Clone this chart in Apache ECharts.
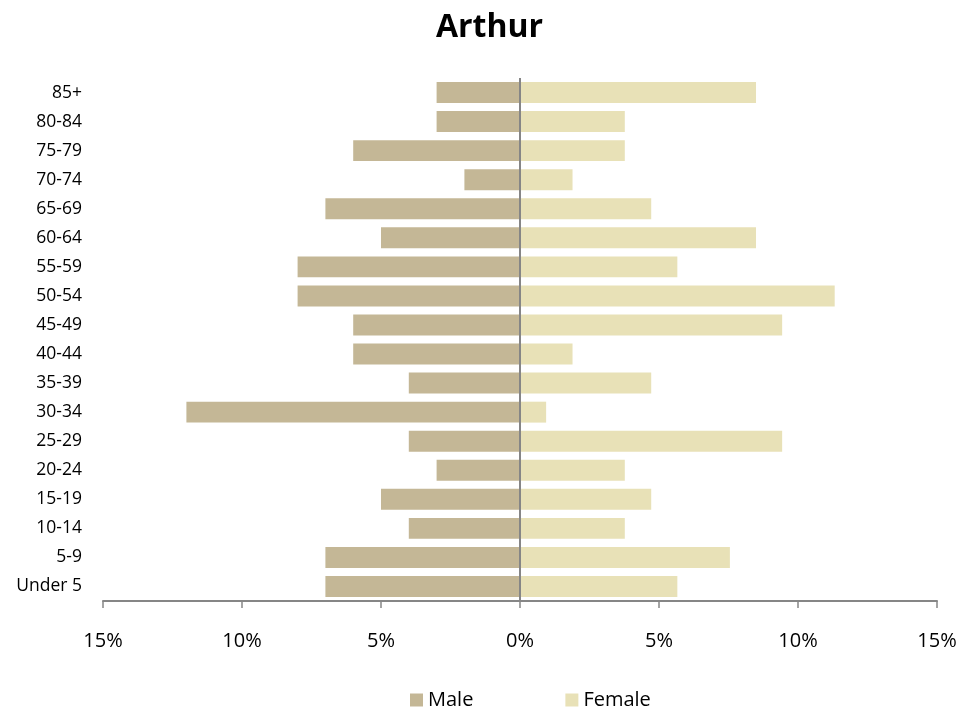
<!DOCTYPE html>
<html>
<head>
<meta charset="utf-8">
<script src="https://cdn.jsdelivr.net/npm/echarts@6/dist/echarts.min.js"></script>
<style>html,body{margin:0;padding:0;background:#fff}#c{width:979px;height:713px}</style>
</head>
<body>
<div id="c"></div>
<script>
const categories = ["Under 5","5-9","10-14","15-19","20-24","25-29","30-34","35-39","40-44","45-49","50-54","55-59","60-64","65-69","70-74","75-79","80-84","85+"];
const maleValues = [7,7,4,5,3,4,12,4,6,6,8,8,5,7,2,6,3,3];
const femaleValues = [5.66,7.55,3.77,4.72,3.77,9.43,0.94,4.72,1.89,9.43,11.32,5.66,8.49,4.72,1.89,3.77,3.77,8.49];
const xTicks = [-15,-10,-5,0,5,10,15];

const font = "'Open Sans', 'Liberation Sans', sans-serif";
const chart = echarts.init(document.getElementById('c'), null, {renderer:'canvas'});
chart.setOption({
  animation:false,
  backgroundColor:'#fff',
  title:{text:'Arthur',left:'center',top:7,textStyle:{fontFamily:font,fontSize:32,fontWeight:'bold',color:'#000'}},
  legend:{left:405,top:685,itemWidth:13,itemHeight:13,itemGap:92,icon:'rect',
    textStyle:{fontFamily:font,fontSize:20,color:'#000'},data:['Male','Female']},
  grid:{left:103,right:42,top:78,bottom:112,containLabel:false},
  xAxis:{type:'value',min:xTicks[0],max:xTicks[xTicks.length-1],interval:5,
    axisLine:{show:true,lineStyle:{color:'#868686',width:2}},
    axisTick:{show:true,length:7,lineStyle:{color:'#868686',width:1.5}},
    splitLine:{show:false},
    axisLabel:{margin:30,fontFamily:font,fontSize:20,color:'#000',formatter:v=>Math.abs(v)+'%'}},
  yAxis:{type:'category',data:categories,
    axisLine:{show:false},axisTick:{show:false},
    axisLabel:{margin:21,fontFamily:font,fontSize:17.5,color:'#000'}},
  series:[
    {name:'Male',type:'bar',stack:'a',barWidth:'72%',data:maleValues.map(v=>-v),
      itemStyle:{color:'#c4b796'},
      markLine:{silent:true,symbol:'none',label:{show:false},lineStyle:{color:'#868686',width:2,type:'solid'},data:[{xAxis:0}]}},
    {name:'Female',type:'bar',stack:'a',barWidth:'72%',data:femaleValues,itemStyle:{color:'#e8e1b7'}}
  ]
});
</script>
</body>
</html>
